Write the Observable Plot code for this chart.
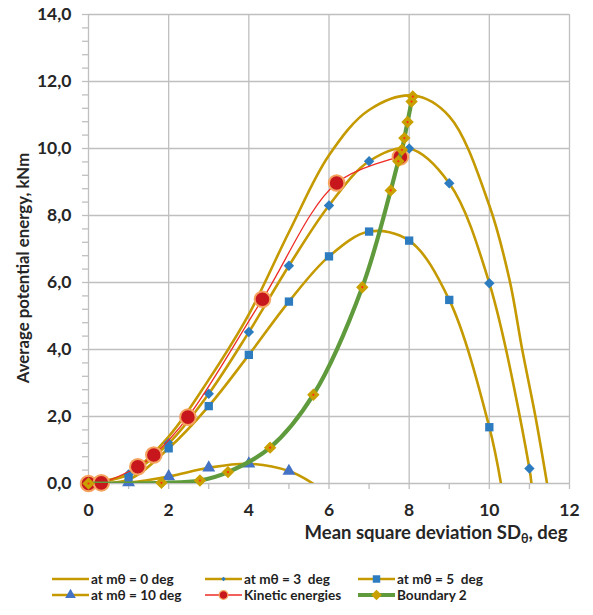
<!DOCTYPE html>
<html>
<head>
<meta charset="utf-8">
<script src="https://cdn.jsdelivr.net/npm/d3@7"></script>
<script src="https://cdn.jsdelivr.net/npm/@observablehq/plot@0.6"></script>
<style>
  body { margin: 0; background: #fff; font-family: Lato, "Open Sans", sans-serif; }
  #wrap { position: relative; width: 593px; height: 615px; overflow: hidden; }
  .li { position: absolute; height: 16px; display: flex; align-items: center; white-space: pre;
        font: bold 13.6px Lato, sans-serif; color: #1f1f1f; }
  .li svg { margin-right: 2px; }
</style>
</head>
<body>
<div id="wrap"></div>
<script>
// ---------- data ----------
const seriesNames = ["at mθ = 0 deg", "at mθ = 3  deg", "at mθ = 5  deg",
                     "at mθ = 10 deg", "Kinetic energies", "Boundary 2"];

// at mθ = 0 deg (line only)
const m0X = [0, 1, 2, 3, 4, 5, 6, 7, 8.1, 9, 10, 10.5, 10.82, 11.15, 11.44];
const m0Y = [0, 0.3, 1.4, 3.1, 5.05, 7.5, 9.8, 11.15, 11.58, 10.96, 8.3, 6.1, 4.0, 2.0, 0];

// at mθ = 3 deg (diamonds)
const m3X = [0, 1, 2, 3, 4, 5, 6, 7, 8, 9, 10, 11];
const m3Y = [0, 0.27, 1.2, 2.68, 4.52, 6.5, 8.3, 9.62, 10.0, 8.96, 5.98, 0.45];
const m3ZeroX = 11.05;

// at mθ = 5 deg (squares)
const m5X = [0, 1, 2, 3, 4, 5, 6, 7, 8, 9, 10];
const m5Y = [0, 0.12, 1.05, 2.31, 3.84, 5.43, 6.78, 7.52, 7.25, 5.48, 1.68];
const m5ZeroX = 10.29;

// at mθ = 10 deg (triangles)
const m10X = [0, 1, 2, 3, 4, 5];
const m10Y = [0, 0.03, 0.21, 0.47, 0.59, 0.37];
const m10ZeroX = 5.6;

// Kinetic energies
const kX = [0, 0.32, 1.23, 1.63, 2.48, 4.34, 6.19, 7.78];
const kY = [0, 0.02, 0.5, 0.85, 1.98, 5.5, 8.97, 9.75];

// Boundary 2
const bX = [0, 1.82, 2.78, 3.48, 4.53, 5.61, 6.83, 7.54, 7.73, 7.82, 7.88, 7.96, 8.06, 8.09];
const bY = [0, 0.02, 0.09, 0.34, 1.07, 2.65, 5.86, 8.75, 9.62, 9.96, 10.31, 10.79, 11.4, 11.55];

// axes
const xMajorTicks = [0, 2, 4, 6, 8, 10, 12];
const xAllTicks = [0, 1, 2, 3, 4, 5, 6, 7, 8, 9, 10, 11, 12];
const yMajorTicks = [0, 2, 4, 6, 8, 10, 12, 14];
const yAllTicks = d3.range(0, 36).map(i => i * 0.4);
const xTitle = "Mean square deviation SDθ, deg";
const yTitle = "Average potential energy, kNm";

// ---------- styles ----------
const gold = "#c59a00", blue = "#2e7cc0", triBlue = "#4472c4";
const redLine = "#ee2b25", redFill = "#c8161d", redStroke = "#f5a460";
const green = "#5f9b3c", goldMark = "#c9a000", gridC = "#bfbfbf";

const rows = (xs, ys) => xs.map((x, i) => ({x, y: ys[i]}));
const m0 = rows(m0X, m0Y);
const m3 = rows(m3X, m3Y), m3Line = [...m3, {x: m3ZeroX, y: 0}];
const m5 = rows(m5X, m5Y), m5Line = [...m5, {x: m5ZeroX, y: 0}];
const m10 = rows(m10X, m10Y), m10Line = [...m10, {x: m10ZeroX, y: 0}];
const kin = rows(kX, kY);
const bnd = rows(bX, bY);

const isEven = d => Math.abs(d / 2 - Math.round(d / 2)) < 1e-6;
const fmtY = d => isEven(d) ? d3.format(".1f")(d).replace(".", ",") : "";
const fmtX = d => isEven(d) ? String(d) : "";

const chart = Plot.plot({
  width: 593, height: 550,
  marginLeft: 88, marginRight: 24, marginTop: 14, marginBottom: 67,
  style: {fontFamily: "Lato, sans-serif", background: "white", overflow: "visible"},
  x: {domain: [0, 12], label: null},
  y: {domain: [0, 14], label: null},
  marks: [
    Plot.gridX({ticks: xMajorTicks, stroke: gridC, strokeOpacity: 1, strokeWidth: 1.3}),
    Plot.gridY({ticks: yMajorTicks, stroke: gridC, strokeOpacity: 1, strokeWidth: 1.3}),
    Plot.axisX({ticks: xAllTicks, tickSize: 6, tickPadding: 14, tickFormat: fmtX,
      stroke: gridC, strokeWidth: 1.3, fill: "#262626", fontSize: 17.5, fontWeight: "bold"}),
    Plot.axisY({ticks: yAllTicks, tickSize: 6, tickPadding: 11, tickFormat: fmtY,
      stroke: gridC, strokeWidth: 1.3, fill: "#262626", fontSize: 17.5, fontWeight: "bold"}),

    // gold curves
    Plot.line(m0, {x: "x", y: "y", curve: "catmull-rom", stroke: gold, strokeWidth: 2.6, clip: true}),
    Plot.line(m3Line, {x: "x", y: "y", curve: "catmull-rom", stroke: gold, strokeWidth: 2.6, clip: true}),
    Plot.dot(m3, {x: "x", y: "y", symbol: "diamond2", r: 4.7, fill: blue}),
    Plot.line(m5Line, {x: "x", y: "y", curve: "catmull-rom", stroke: gold, strokeWidth: 2.6, clip: true}),
    Plot.dot(m5, {x: "x", y: "y", symbol: "square", r: 4.7, fill: blue}),
    Plot.line(m10Line, {x: "x", y: "y", curve: "catmull-rom", stroke: gold, strokeWidth: 2.6, clip: true}),
    Plot.dot(m10, {x: "x", y: "y", symbol: "triangle", r: 4.8, fill: triBlue}),

    // kinetic energies
    Plot.line(kin, {x: "x", y: "y", curve: "catmull-rom", stroke: redLine, strokeWidth: 1.3, clip: true}),
    Plot.dot(kin, {x: "x", y: "y", r: 7.8, fill: redFill, stroke: redStroke, strokeWidth: 2}),

    // boundary 2
    Plot.line(bnd, {x: "x", y: "y", curve: "catmull-rom", stroke: green, strokeWidth: 4.2, clip: true}),
    Plot.dot(bnd, {x: "x", y: "y", symbol: "diamond2", r: 5.6, fill: goldMark}),
    Plot.dot(bnd, {x: "x", y: "y", r: 1.1, fill: "#ff2a1a"}),

    // titles
    Plot.text([yTitle], {frameAnchor: "left", dx: -65, dy: 19, rotate: -90,
      textAnchor: "middle", lineAnchor: "middle", fontSize: 16.8, fontWeight: "bold", fill: "#262626"}),
    Plot.text([xTitle], {frameAnchor: "bottom-right", dx: -2, dy: 50,
      textAnchor: "end", lineAnchor: "middle", fontSize: 18.5, fontWeight: "bold", fill: "#262626"})
  ]
});

// subscript θ in the x title
d3.select(chart).selectAll("text").each(function () {
  if (this.textContent === xTitle) {
    const t = d3.select(this);
    t.text(null);
    t.append("tspan").text("Mean square deviation SD");
    t.append("tspan").attr("font-size", "12.5px").attr("dy", "4").text("θ");
    t.append("tspan").attr("dy", "-4").text(", deg");
  }
});

const wrap = document.getElementById("wrap");
wrap.appendChild(chart);

// ---------- legend ----------
const legendSpecs = [
  {line: gold, lw: 2.6, sym: null},
  {line: gold, lw: 2.6, sym: d3.symbolDiamond2, size: 14, fill: blue},
  {line: gold, lw: 2.6, sym: d3.symbolSquare, size: 56, fill: blue},
  {line: gold, lw: 2.6, sym: d3.symbolTriangle, size: 50, fill: triBlue},
  {line: redLine, lw: 1.3, sym: d3.symbolCircle, size: 60, fill: redFill, stroke: redStroke},
  {line: green, lw: 4, sym: d3.symbolDiamond2, size: 70, fill: goldMark}
];
const legLeft = [52, 205, 358];
const legTop = [571, 587];
seriesNames.forEach((name, i) => {
  const spec = legendSpecs[i];
  const div = d3.select(wrap).append("div").attr("class", "li")
    .style("left", legLeft[i % 3] + "px").style("top", legTop[Math.floor(i / 3)] + "px");
  const s = div.append("svg").attr("width", 37).attr("height", 16);
  s.append("line").attr("x1", 0).attr("x2", 37).attr("y1", 8).attr("y2", 8)
    .attr("stroke", spec.line).attr("stroke-width", spec.lw);
  if (spec.sym) {
    s.append("path").attr("d", d3.symbol(spec.sym, spec.size)())
      .attr("transform", "translate(18.5,8)")
      .attr("fill", spec.fill).attr("stroke", spec.stroke || "none").attr("stroke-width", 1.2);
  }
  div.append("span").text(name);
});
</script>
</body>
</html>
